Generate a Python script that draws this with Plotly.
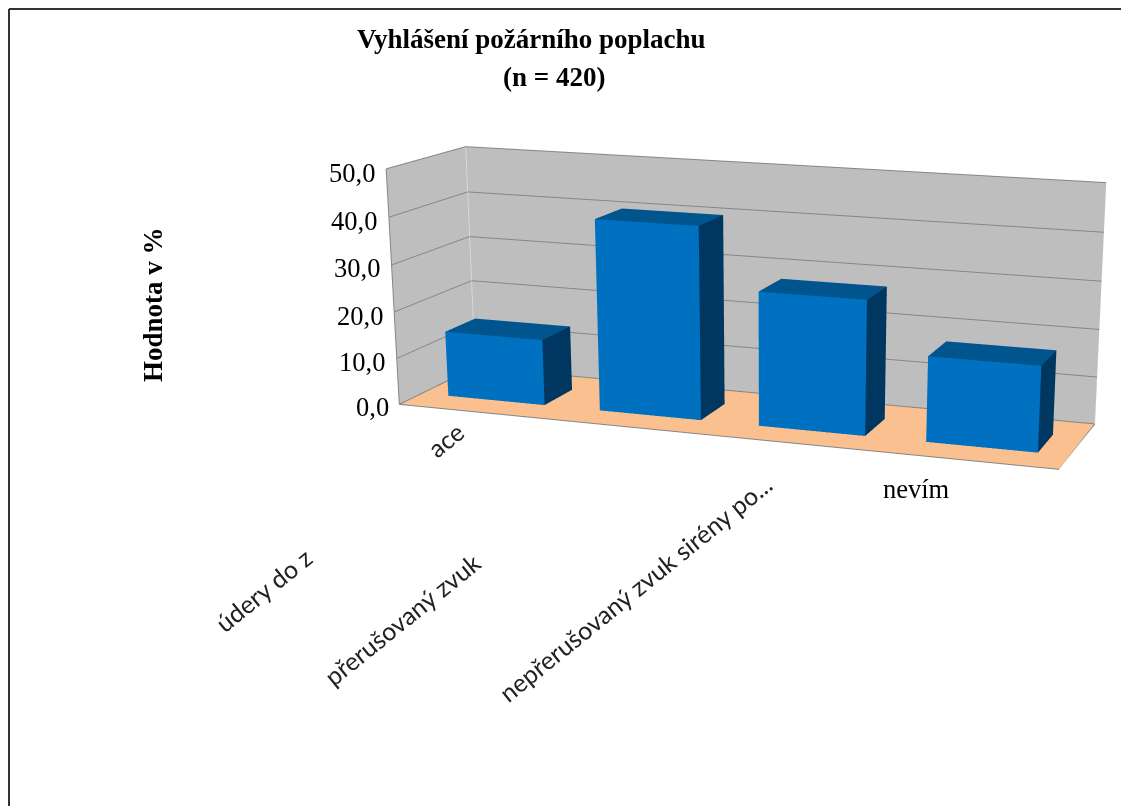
import plotly.graph_objects as go

categories = ["úder do kolejnice", "údery do zavěšeného předmětu", "přerušovaný zvuk", "nepřerušovaný zvuk sirény po dobu", "nevím"]
values = [14.15, 40.58, 28.05, 17.61]
y_ticks = [0, 10, 20, 30, 40, 50]
y_tick_labels = ["0,0", "10,0", "20,0", "30,0", "40,0", "50,0"]
title_lines = ["Vyhlášení požárního poplachu", "(n = 420)"]
y_title = "Hodnota v %"
shown_labels = ["ace", "údery do z", "přerušovaný zvuk", "nepřerušovaný zvuk sirény po...", "nevím"]

# The reference has a long-lens perspective; Plotly's field of view is fixed,
# so the plot is drawn larger than the window and the window shows a part of it.
W2, H2 = 1640, 1728
LEFT, TOP = 0, -374
half = 0.3205
y0, y1 = 0.2833, 0.6792
FRONT, ROOF, SIDE = "#0070C0", "#00558F", "#003760"
GRID = "#868686"

def px(x): return (x - LEFT) / W2
def py(y): return 1 - (y - TOP) / H2

fig = go.Figure()
for i, v in enumerate(values):
    xs = [i-half, i+half, i+half, i-half, i-half, i+half, i+half, i-half]
    ys = [y0, y0, y1, y1, y0, y0, y1, y1]
    zs = [0, 0, 0, 0, v, v, v, v]
    tri = [(0,1,5,FRONT),(0,5,4,FRONT),(1,2,6,SIDE),(1,6,5,SIDE),(4,5,6,ROOF),(4,6,7,ROOF)]
    fig.add_trace(go.Mesh3d(x=xs, y=ys, z=zs,
        i=[t[0] for t in tri], j=[t[1] for t in tri], k=[t[2] for t in tri],
        facecolor=[t[3] for t in tri], flatshading=True,
        lighting=dict(ambient=1, diffuse=0, specular=0, roughness=1, fresnel=0),
        hoverinfo="skip", showscale=False))

xr, yr, zr = (-0.5, 3.5), (0, 1), (0, 50)
edges = [
    ([xr[0], xr[0]], [yr[0], yr[0]], list(zr), GRID),
    ([xr[0], xr[0]], [yr[0], yr[1]], [zr[1], zr[1]], GRID),
    ([xr[0], xr[1]], [yr[1], yr[1]], [zr[1], zr[1]], GRID),
    ([xr[0], xr[1]], [yr[0], yr[0]], [zr[0], zr[0]], GRID),
    ([xr[1], xr[1]], [yr[0], yr[1]], [zr[0], zr[0]], GRID),
    ([xr[0], xr[0]], [yr[0], yr[1]], [zr[0], zr[0]], GRID),
    ([xr[0], xr[1]], [yr[1], yr[1]], [zr[0], zr[0]], GRID),
    ([xr[0], xr[0]], [yr[1], yr[1]], list(zr), "#DADADA"),
    ([xr[1], xr[1]], [yr[1], yr[1]], list(zr), "#DADADA"),
]
for ex, ey, ez, col in edges:
    fig.add_trace(go.Scatter3d(x=ex, y=ey, z=ez, mode="lines", line=dict(color=col, width=2), hoverinfo="skip", showlegend=False))

def axis(rng, grid, bg, tick=None):
    return dict(range=list(rng), showgrid=grid, gridcolor=GRID, gridwidth=2, zeroline=False,
                showline=False, showticklabels=False, ticks="", title="", showbackground=True,
                backgroundcolor=bg, showspikes=False, tickvals=tick)

fig.update_layout(
    width=W2, height=H2, margin=dict(l=0, r=0, t=0, b=0), paper_bgcolor="white", showlegend=False,
    scene=dict(
        domain=dict(x=[0, 1], y=[0, 1]),
        xaxis=axis(xr, False, "#BEBEBE"), yaxis=axis(yr, False, "#BEBEBE"), zaxis=axis(zr, True, "#FAC08F", y_ticks),
        aspectmode="manual", aspectratio=dict(x=1, y=0.2430, z=0.3506),
        camera=dict(eye=dict(x=1.0408, y=-2.7741, z=0.6315), center=dict(x=0.2583, y=-0.4147, z=-0.1435),
                    up=dict(x=-0.0467, y=0.1203, z=1), projection=dict(type="perspective")),
    ),
    shapes=[
        dict(type="line", xref="paper", yref="paper", x0=px(9), x1=px(1121), y0=py(9), y1=py(9), line=dict(color="#333333", width=2)),
        dict(type="line", xref="paper", yref="paper", x0=px(9), x1=px(9), y0=py(9), y1=py(806), line=dict(color="#333333", width=2)),
    ],
)

SERIF = "Liberation Serif"
def note(text, x, y, size, family=SERIF, angle=0, color="black", xanchor="center"):
    fig.add_annotation(text=text, x=px(x), y=py(y), xref="paper", yref="paper", showarrow=False,
                       textangle=angle, xanchor=xanchor, yanchor="middle", font=dict(family=family, size=size, color=color))

note("<b>" + title_lines[0] + "</b>", 531, 39, 27)
note("<b>" + title_lines[1] + "</b>", 554, 77, 27)
note("<b>" + y_title + "</b>", 153, 305, 27, angle=-90)
tick_y = [407, 362, 316, 268, 221, 173]
tick_x = [391, 387, 385, 382, 379, 377]
for lab, tx, ty in zip(y_tick_labels, tick_x, tick_y):
    note(lab, tx, ty, 26.5, xanchor="right")
note(shown_labels[4], 916, 489, 26.5)
for lab, cx, cy in zip(shown_labels[:4], [445, 263, 402, 635], [440, 590, 619, 588]):
    note(lab, cx, cy, 25, family="Lato", angle=-39, color="#222222")

fig.write_html("out.html", config=dict(displayModeBar=False),
    post_script=("var g=document.getElementById('{plot_id}');g.style.position='absolute';"
                 f"g.style.left='{LEFT}px';g.style.top='{TOP}px';"
                 "document.documentElement.style.overflow='hidden';document.body.style.overflow='hidden';document.body.style.margin='0';"))
